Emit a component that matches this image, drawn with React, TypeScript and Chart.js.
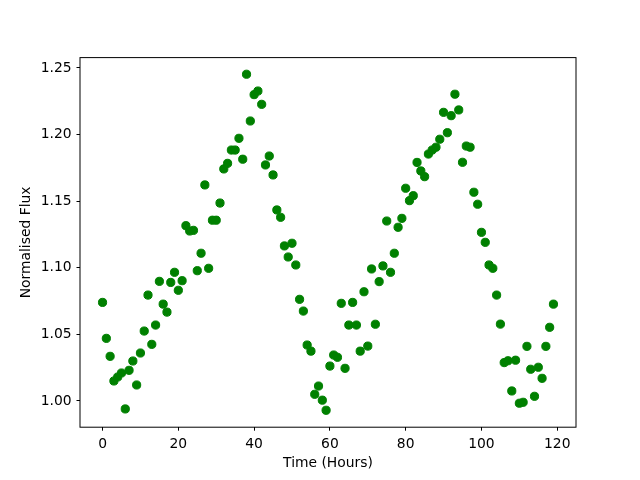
import React, { useEffect, useRef } from 'react';
import { Chart, registerables } from 'chart.js';

Chart.register(...registerables);

const hours = [
  0, 1, 2, 3, 4, 5, 6, 7, 8, 9, 10, 11, 12, 13, 14, 15, 16, 17, 18, 19,
  20, 21, 22, 23, 24, 25, 26, 27, 28, 29, 30, 31, 32, 33, 34, 35, 36, 37, 38, 39,
  40, 41, 42, 43, 44, 45, 46, 47, 48, 49, 50, 51, 52, 53, 54, 55, 56, 57, 58, 59,
  60, 61, 62, 63, 64, 65, 66, 67, 68, 69, 70, 71, 72, 73, 74, 75, 76, 77, 78, 79,
  80, 81, 82, 83, 84, 85, 86, 87, 88, 89, 90, 91, 92, 93, 94, 95, 96, 97, 98, 99,
  100, 101, 102, 103, 104, 105, 106, 107, 108, 109, 110, 111, 112, 113, 114, 115, 116, 117, 118, 119,
];

const flux = [
  1.074, 1.047, 1.0335, 1.015, 1.018, 1.021, 0.994, 1.023, 1.030, 1.012,
  1.036, 1.0525, 1.0795, 1.0425, 1.057, 1.0898, 1.0727, 1.0667, 1.089, 1.0966,
  1.0831, 1.0903, 1.1316, 1.1276, 1.1281, 1.0978, 1.1109, 1.1622, 1.0996, 1.1357,
  1.1357, 1.1486, 1.1742, 1.1784, 1.1884, 1.1884, 1.1972, 1.1815, 1.2453, 1.2102,
  1.230, 1.2327, 1.2227, 1.1772, 1.1839, 1.1697, 1.1434, 1.1379, 1.1164, 1.1081,
  1.1184, 1.1021, 1.0763, 1.0675, 1.042, 1.0374, 1.005, 1.0112, 1.0006, 0.993,
  1.0262, 1.0345, 1.0328, 1.0733, 1.0245, 1.057, 1.074, 1.057, 1.0374, 1.082,
  1.0412, 1.0991, 1.0576, 1.0896, 1.1014, 1.1351, 1.0966, 1.1109, 1.1304, 1.1371,
  1.1597, 1.1504, 1.1541, 1.1791, 1.1727, 1.1684, 1.1854, 1.1884, 1.1905, 1.1965,
  1.2167, 1.2014, 1.2142, 1.2303, 1.2185, 1.1792, 1.1914, 1.1905, 1.1567, 1.1477,
  1.1266, 1.1191, 1.1021, 1.0996, 1.0795, 1.0577, 1.0288, 1.0302, 1.0075, 1.0306,
  0.9983, 0.999, 1.041, 1.0238, 1.0035, 1.0253, 1.017, 1.041, 1.0553, 1.0727,
];

const xTicks = [0, 20, 40, 60, 80, 100, 120];
const yTicks = [1.0, 1.05, 1.1, 1.15, 1.2, 1.25];
const xTitle = 'Time (Hours)';
const yTitle = 'Normalised Flux';

const FONT = { family: '"DejaVu Sans", sans-serif', size: 13.89, lineHeight: 1.2 };

const framePlugin = {
  id: 'frame',
  beforeDraw(chart: any) {
    const { ctx } = chart;
    ctx.save();
    ctx.fillStyle = '#ffffff';
    ctx.fillRect(0, 0, chart.width, chart.height);
    ctx.restore();
  },
  afterDraw(chart: any) {
    const { ctx, chartArea: a } = chart;
    ctx.save();
    ctx.strokeStyle = '#000000';
    ctx.lineWidth = 1;
    ctx.strokeRect(a.left, a.top, a.right - a.left, a.bottom - a.top);
    ctx.restore();
  },
};

export default function App() {
  const ref = useRef<HTMLCanvasElement>(null);

  useEffect(() => {
    if (!ref.current) return;
    const points = hours.map((h, i) => ({ x: h, y: flux[i] }));
    const chart = new Chart(ref.current, {
      type: 'scatter',
      data: {
        datasets: [
          {
            data: points,
            backgroundColor: '#008000',
            borderColor: '#008000',
            pointRadius: 4.1,
            pointBorderWidth: 1,
            pointHoverRadius: 4.1,
          },
        ],
      },
      options: {
        responsive: false,
        animation: false,
        events: [],
        layout: { padding: { left: 0, top: 57.6, right: 64, bottom: 0 } },
        plugins: { legend: { display: false }, tooltip: { enabled: false } },
        scales: {
          x: {
            type: 'linear',
            min: -5.95,
            max: 124.95,
            afterBuildTicks: (s: any) => {
              s.ticks = xTicks.map((v) => ({ value: v }));
            },
            afterFit: (s: any) => {
              s.height = 52.8;
            },
            ticks: {
              color: '#000000',
              font: FONT,
              padding: 4.9,
              maxRotation: 0,
              autoSkip: false,
              callback: (v: any) => String(v),
            },
            grid: {
              display: true,
              drawOnChartArea: false,
              drawTicks: true,
              tickLength: 3.5,
              tickColor: '#000000',
              tickWidth: 1,
            },
            border: { display: false },
            title: {
              display: true,
              text: xTitle,
              color: '#000000',
              font: FONT,
              padding: { top: 0, bottom: 8.5 },
            },
          },
          y: {
            type: 'linear',
            min: 0.9803,
            max: 1.2578,
            afterBuildTicks: (s: any) => {
              s.ticks = yTicks.map((v) => ({ value: v }));
            },
            afterFit: (s: any) => {
              s.width = 80;
            },
            ticks: {
              color: '#000000',
              font: FONT,
              padding: 4.9,
              autoSkip: false,
              callback: (v: any) => Number(v).toFixed(2),
            },
            grid: {
              display: true,
              drawOnChartArea: false,
              drawTicks: true,
              tickLength: 3.5,
              tickColor: '#000000',
              tickWidth: 1,
            },
            border: { display: false },
            title: {
              display: true,
              text: yTitle,
              color: '#000000',
              font: FONT,
              padding: { top: 18.5, bottom: 0 },
            },
          },
        },
      },
      plugins: [framePlugin],
    });
    return () => chart.destroy();
  }, []);

  return (
    <div style={{ position: 'absolute', left: 0, top: 0, width: 640, height: 480, background: '#fff' }}>
      <canvas ref={ref} width={640} height={480} style={{ display: 'block', width: 640, height: 480 }} />
    </div>
  );
}
